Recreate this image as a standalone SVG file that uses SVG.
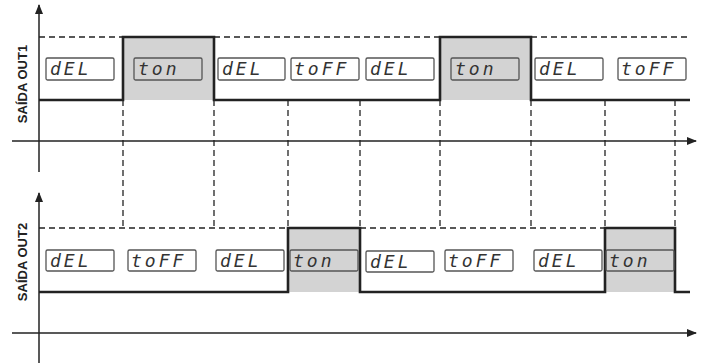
<svg xmlns="http://www.w3.org/2000/svg" width="708" height="363" viewBox="0 0 708 363">
<style>
.axis{stroke:#222;stroke-width:1.5;fill:none}
.dash{stroke:#222;stroke-width:1.3;stroke-dasharray:6 4;fill:none}
.sig{stroke:#222;stroke-width:2.6;fill:none;stroke-linejoin:miter}
.on{fill:#d3d3d3;stroke:none}
.box{fill:none;stroke:#555;stroke-width:1.3}
.wbox{fill:#fff;stroke:#555;stroke-width:1.3}
.seg{font-family:"DejaVu Sans Mono",monospace;font-style:italic;font-size:18px;fill:#333;letter-spacing:3px}
.lbl{font-family:"Liberation Sans",Arial,sans-serif;font-weight:bold;font-size:13px;fill:#222}
</style>
<defs>
<marker id="ah" viewBox="0 0 10 10" refX="9" refY="5" markerWidth="12" markerHeight="10" markerUnits="userSpaceOnUse" orient="auto">
<path d="M0,1 L10,5 L0,9 Z" fill="#222"/>
</marker>
</defs>
<g id="gray-pulses">
<rect class="on" x="123" y="37" width="91" height="63"/>
<rect class="on" x="440" y="37" width="91" height="63"/>
<rect class="on" x="288" y="228" width="72" height="64"/>
<rect class="on" x="605" y="228" width="70" height="64"/>
</g>
<g id="connectors">
<line class="axis" x1="39" y1="172" x2="39" y2="5" marker-end="url(#ah)"/>
<line class="axis" x1="12" y1="141" x2="696" y2="141" marker-end="url(#ah)"/>
<line class="axis" x1="39" y1="363" x2="39" y2="193" marker-end="url(#ah)"/>
<line class="axis" x1="12" y1="333" x2="696" y2="333" marker-end="url(#ah)"/>
<path class="dash" d="M39,37 H123 M214,37 H440 M531,37 H687"/>
<path class="dash" d="M39,228 H288 M360,228 H605"/>
<path class="dash" d="M123,100 V228 M214,100 V228 M288,100 V228 M360,100 V228 M440,100 V228 M531,100 V228 M605,100 V228 M675,100 V228"/>
<path class="sig" d="M39,100 H123 V37 H214 V100 H440 V37 H531 V100 H690"/>
<path class="sig" d="M39,292 H288 V228 H360 V292 H605 V228 H675 V292 H690"/>
</g>
<g id="label-out1"><text class="lbl" transform="translate(27,84) rotate(-90)" text-anchor="middle">SAÍDA OUT1</text></g>
<g id="label-out2"><text class="lbl" transform="translate(27,262) rotate(-90)" text-anchor="middle">SAÍDA OUT2</text></g>
<g id="out1-del1"><rect class="wbox" x="46" y="58" width="68" height="22" rx="1.5"/><text class="seg" x="50" y="75">dEL</text></g>
<g id="out1-ton1"><rect class="box" x="134" y="58" width="68" height="22" rx="1.5"/><text class="seg" x="138" y="75">ton</text></g>
<g id="out1-del2"><rect class="wbox" x="218" y="58" width="67" height="22" rx="1.5"/><text class="seg" x="222" y="75">dEL</text></g>
<g id="out1-toff1"><rect class="wbox" x="291" y="58" width="68" height="22" rx="1.5"/><text class="seg" x="294" y="75">toFF</text></g>
<g id="out1-del3"><rect class="wbox" x="366" y="58" width="68" height="22" rx="1.5"/><text class="seg" x="370" y="75">dEL</text></g>
<g id="out1-ton2"><rect class="box" x="451" y="58" width="68" height="22" rx="1.5"/><text class="seg" x="455" y="75">ton</text></g>
<g id="out1-del4"><rect class="wbox" x="535" y="58" width="68" height="22" rx="1.5"/><text class="seg" x="539" y="75">dEL</text></g>
<g id="out1-toff2"><rect class="wbox" x="618" y="58" width="68" height="22" rx="1.5"/><text class="seg" x="621" y="75">toFF</text></g>
<g id="out2-del1"><rect class="wbox" x="46" y="250" width="68" height="21" rx="1.5"/><text class="seg" x="50" y="267">dEL</text></g>
<g id="out2-toff1"><rect class="wbox" x="128" y="250" width="68" height="21" rx="1.5"/><text class="seg" x="131" y="267">toFF</text></g>
<g id="out2-del2"><rect class="wbox" x="216" y="250" width="68" height="21" rx="1.5"/><text class="seg" x="220" y="267">dEL</text></g>
<g id="out2-ton1"><rect class="box" x="290" y="250" width="68" height="21" rx="1.5"/><text class="seg" x="293" y="267">ton</text></g>
<g id="out2-del3"><rect class="wbox" x="366" y="251" width="68" height="21" rx="1.5"/><text class="seg" x="370" y="268">dEL</text></g>
<g id="out2-toff2"><rect class="wbox" x="445" y="250" width="68" height="21" rx="1.5"/><text class="seg" x="448" y="267">toFF</text></g>
<g id="out2-del4"><rect class="wbox" x="534" y="250" width="68" height="21" rx="1.5"/><text class="seg" x="538" y="267">dEL</text></g>
<g id="out2-ton2"><rect class="box" x="606" y="250" width="68" height="21" rx="1.5"/><text class="seg" x="609" y="267">ton</text></g>
</svg>
